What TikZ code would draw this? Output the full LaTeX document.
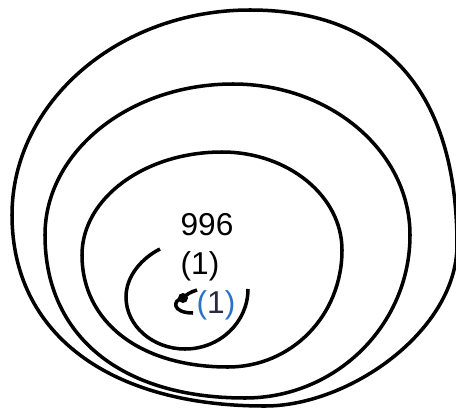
\documentclass[tikz,border=0pt]{standalone}
\usepackage{fontspec}
\setmainfont{Liberation Sans}
\definecolor{labelblue}{HTML}{2A72C6}
\definecolor{labelnavy}{HTML}{2A2A44}
\tikzset{
  spiralline/.style={draw, line width=2pt},
  numlabel/.style={inner sep=0pt, font=\fontsize{18}{21}\selectfont},
  bluelabel/.style={numlabel, text=labelnavy},
  eyedot/.style={circle, fill=black, minimum size=0.2cm, inner sep=0pt},
}

\begin{document}
\begin{tikzpicture}[x=0.02cm, y=-0.02cm]
    \useasboundingbox (0,0) rectangle (456,409);
    % outer loops
    \draw[spiralline] (250,10)
      .. controls (385,10) and (457,92) .. (457,245)
      .. controls (457,330) and (350,406) .. (265,406)
      .. controls (108,406) and (12,333) .. (12,215)
      .. controls (12,102) and (119,10) .. (250,10) -- cycle;
    \draw[spiralline] (233,84)
      .. controls (331,84) and (410,152) .. (410,235)
      .. controls (410,325) and (336,398) .. (245,398)
      .. controls (121,398) and (45,336) .. (45,235)
      .. controls (45,152) and (129,84) .. (233,84) -- cycle;
    \draw[spiralline] (222,152)
      .. controls (288,152) and (342,196) .. (342,250)
      .. controls (342,316) and (291,367) .. (228,367)
      .. controls (140,367) and (82,322) .. (82,255)
      .. controls (82,198) and (145,152) .. (222,152) -- cycle;
    % inner turn
    \draw[spiralline] (248,289)
      .. controls (248,322) and (220,349) .. (185,349)
      .. controls (153,349) and (126,326) .. (126,297)
      .. controls (126,276) and (142,258) .. (160,249);
    \node[eyedot] (eye) at (183,298) {};
    \draw[spiralline] (197,290)
      .. controls (190,292) and (186,295) .. (eye.center)
      .. controls (172,300) and (172,313) .. (193,313);
    \node[numlabel] (count) at (207,225) {996};
    \node[numlabel] (countone) at (200,266) {(1)};
    \node[bluelabel] (blueone) at (216,305)
      {\textcolor{labelblue}{(}1\textcolor{labelblue}{)}};
  \end{tikzpicture}
\end{document}
